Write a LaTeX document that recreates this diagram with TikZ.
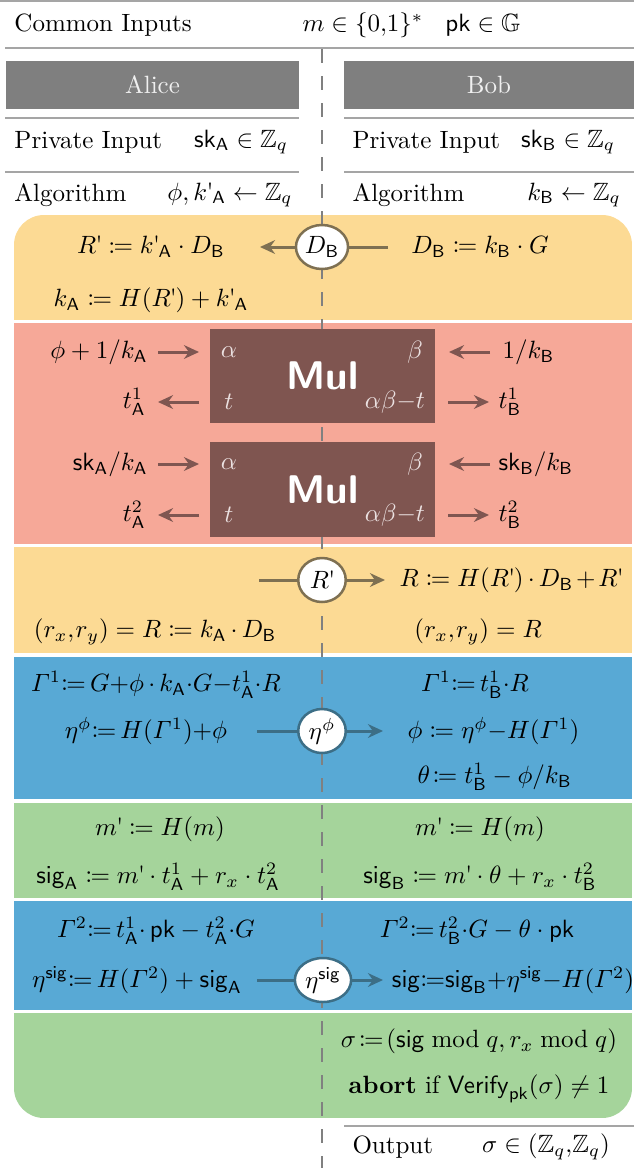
\documentclass[tikz,border=0pt]{standalone}
\usepackage{amsmath,amssymb,mathtools}
\usetikzlibrary{arrows.meta,shapes.geometric}
\definecolor{yel}{RGB}{252,218,148}
\definecolor{sal}{RGB}{246,168,152}
\definecolor{blu}{RGB}{88,169,213}
\definecolor{grn}{RGB}{165,212,155}
\definecolor{mulc}{RGB}{127,85,80}
\definecolor{ybr}{RGB}{126,112,82}
\definecolor{rbr}{RGB}{127,86,81}
\definecolor{bdk}{RGB}{60,110,134}
\definecolor{hdrc}{RGB}{127,127,127}
\definecolor{rulec}{RGB}{165,165,165}
\definecolor{dashc}{RGB}{128,128,128}
\definecolor{mullab}{RGB}{235,225,225}
\newcommand{\SA}{_{\mathsf{A}}}
\newcommand{\SB}{_{\mathsf{B}}}
\newcommand{\qt}{\text{\kern-0.3pt\textquotesingle\kern-0.5pt}}
\newcommand{\Zq}{\mathbb{Z}_q}
\begin{document}
\begin{tikzpicture}[x=0.4pt,y=-0.4pt,
  txt/.style={inner sep=0pt},
  hdrbox/.style={fill=hdrc,text=white!94!black,inner sep=0pt},
  rulel/.style={draw=rulec,line width=0.9pt},
  circnode/.style={ellipse,draw,fill=white,line width=1pt,minimum width=19pt,minimum height=17.6pt,inner sep=0.5pt},
  mulbox/.style={fill=mulc,text=white,inner sep=0pt,font=\fontsize{16}{16}\selectfont\sffamily\bfseries},
  mlab/.style={inner sep=0pt,text=mullab},
  arr/.style={line width=1.2pt,-{Stealth[length=6pt,width=5.5pt]}},
  ln/.style={line width=1.2pt}
]
\useasboundingbox (0,0) rectangle (634,1168);
% colored sections
\begin{scope}
\clip[rounded corners=12pt] (14,215) rectangle (632,1118);
\fill[yel] (14,215) rectangle (632,320);
\fill[sal] (14,323) rectangle (632,544);
\fill[yel] (14,547) rectangle (632,653);
\fill[blu] (14,657) rectangle (632,799);
\fill[grn] (14,803) rectangle (632,898);
\fill[blu] (14,901) rectangle (632,1010);
\fill[grn] (14,1013) rectangle (632,1118);
\end{scope}
% rules
\draw[rulel] (0,1) -- (634,1);
\draw[rulel] (5,48) -- (634,48);
\draw[rulel] (5,118) -- (299,118);
\draw[rulel] (344,118) -- (634,118);
\draw[rulel] (5,172) -- (299,172);
\draw[rulel] (344,172) -- (634,172);
\draw[rulel] (344,1126) -- (634,1126);
% dashed divider
\coordinate (dtop) at (322,49);
\coordinate (dbot) at (322,1168);
\draw[dashc,line width=0.9pt,dash pattern=on 5.4pt off 5.4pt] (dtop) -- (dbot);
% header
\node[txt,anchor=west] (ci) at (14,25) {Common Inputs};
\node[txt] (cim) at (363,25) {$m \in \{0{,}1\}^*$};
\node[txt] (cipk) at (483,25) {$\mathsf{pk} \in \mathbb{G}$};
\node[hdrbox,minimum width=117.2pt,minimum height=19.2pt] (alice) at (152.5,85) {Alice};
\node[hdrbox,minimum width=116pt,minimum height=19.2pt] (bob) at (489,85) {Bob};
\node[txt,anchor=west] (piA) at (14,142) {Private Input};
\node[txt] (skA) at (241,142) {$\mathsf{sk}\SA \in \Zq$};
\node[txt,anchor=west] (piB) at (352,142) {Private Input};
\node[txt] (skB) at (568,142) {$\mathsf{sk}\SB \in \Zq$};
\node[txt,anchor=west] (alA) at (14,195) {Algorithm};
\node[txt] (alAv) at (230,195) {$\phi, k\qt\SA \leftarrow \Zq$};
\node[txt,anchor=west] (alB) at (352,195) {Algorithm};
\node[txt] (alBv) at (574,195) {$k\SB \leftarrow \Zq$};
% yellow 1
\node[txt] (rp) at (151,247) {$R\qt \coloneqq k\qt\SA \cdot D\SB$};
\node[txt] (db) at (480,247) {$D\SB \coloneqq k\SB \cdot G$};
\node[txt] (ka) at (151,300) {$k\SA \coloneqq H(R\qt) + k\qt\SA$};
\node[circnode,draw=ybr] (cDB) at (322,247) {$D\SB$};
\coordinate (dbR) at (388,247);
\coordinate (dbL) at (260,247);
\draw[ln,ybr] (dbR) -- (cDB);
\draw[arr,ybr] (cDB) -- (dbL);
% red / Mul
\node[mulbox,minimum width=90pt,minimum height=37.6pt] (mul1) at (322.5,376) {\raisebox{-1.6pt}{Mul}};
\node[mulbox,minimum width=90pt,minimum height=38pt] (mul2) at (322.5,489.5) {\raisebox{-1.6pt}{Mul}};
\node[mlab] (a1) at (229,352) {$\alpha$};
\node[mlab] (b1) at (415,352) {$\beta$};
\node[mlab] (t1) at (229,402) {$t$};
\node[mlab] (ab1) at (395,402) {$\alpha\beta{-}t$};
\node[mlab] (a2) at (229,464) {$\alpha$};
\node[mlab] (b2) at (415,464) {$\beta$};
\node[mlab] (t2) at (229,515) {$t$};
\node[mlab] (ab2) at (395,515) {$\alpha\beta{-}t$};
\node[txt,anchor=east] (in1A) at (148,352) {$\phi + 1/k\SA$};
\node[txt,anchor=east] (o1A) at (146,402) {$t^1\SA$};
\node[txt,anchor=west] (in1B) at (502,352) {$1/k\SB$};
\node[txt,anchor=west] (o1B) at (498,402) {$t^1\SB$};
\node[txt,anchor=east] (in2A) at (148,464) {$\mathsf{sk}\SA/k\SA$};
\node[txt,anchor=east] (o2A) at (146,515) {$t^2\SA$};
\node[txt,anchor=west] (in2B) at (498,464) {$\mathsf{sk}\SB/k\SB$};
\node[txt,anchor=west] (o2B) at (498,515) {$t^2\SB$};
\foreach \y/\n in {352/p, 464/q}{
  \coordinate (la\n) at (158,\y); \coordinate (lb\n) at (199,\y);
  \coordinate (ra\n) at (490,\y); \coordinate (rb\n) at (449,\y);
  \draw[arr,rbr] (la\n) -- (lb\n);
  \draw[arr,rbr] (ra\n) -- (rb\n);
}
\foreach \y/\n in {402/p, 515/q}{
  \coordinate (lc\n) at (199,\y); \coordinate (ld\n) at (158,\y);
  \coordinate (rc\n) at (448,\y); \coordinate (rd\n) at (489,\y);
  \draw[arr,rbr] (lc\n) -- (ld\n);
  \draw[arr,rbr] (rc\n) -- (rd\n);
}
% yellow 2
\node[circnode,draw=ybr] (cR) at (322,580) {$R\qt$};
\coordinate (rL) at (259,580);
\coordinate (rR) at (385,580);
\draw[ln,ybr] (rL) -- (cR);
\draw[arr,ybr] (cR) -- (rR);
\node[txt] (Rdef) at (511,580) {$R \coloneqq H(R\qt)\mkern-1mu\cdot\mkern-1mu D\SB \mkern-2mu+\mkern-2mu R\qt$};
\node[txt] (rxA) at (155,632) {$(r_x,\mkern-2mu r_y) = R \coloneqq k\SA \mkern-1mu\cdot\mkern-1mu D\SB$};
\node[txt] (rxB) at (478,632) {$(r_x,\mkern-2mu r_y) = R$};
% blue 1
\node[txt] (g1A) at (156,685) {$\varGamma^1{\coloneqq}\,G{+}\phi\,{\cdot}\,k\SA{\cdot} G{-}t^1\SA{\cdot}R$};
\node[txt] (g1B) at (475,685) {$\varGamma^1{\coloneqq}\,t^1\SB{\cdot}R$};
\node[txt] (etaA) at (146,731) {$\eta^\phi{\coloneqq}\,H(\varGamma^1){+}\phi$};
\node[circnode,draw=bdk] (cEta) at (322,731) {$\eta^\phi$};
\coordinate (eL) at (257,731);
\coordinate (eR) at (383,731);
\draw[ln,bdk] (eL) -- (cEta);
\draw[arr,bdk] (cEta) -- (eR);
\node[txt,anchor=west] (phiB) at (407,731) {$\phi \coloneqq \eta^\phi{-}H(\varGamma^1)$};
\node[txt,anchor=west] (thB) at (417,777) {$\theta\!\coloneqq t^1\SB - \phi/k\SB$};
% green 1
\node[txt] (mA) at (160,829) {$m\qt \coloneqq H(m)$};
\node[txt] (mB) at (480,829) {$m\qt \coloneqq H(m)$};
\node[txt] (sA) at (158,877) {$\mathsf{sig}\SA \coloneqq m\qt \cdot t^1\SA + r_x \cdot t^2\SA$};
\node[txt] (sB) at (480,877) {$\mathsf{sig}\SB \coloneqq m\qt \cdot \theta + r_x \cdot t^2\SB$};
% blue 2
\node[txt] (g2A) at (156,931) {$\varGamma^2{\coloneqq}\,t^1\SA{\cdot}\,\mathsf{pk} - t^2\SA{\cdot}G$};
\node[txt] (g2B) at (477,931) {$\varGamma^2{\coloneqq}\,t^2\SB{\cdot}G - \theta\cdot\mathsf{pk}$};
\node[txt] (esA) at (137,980) {$\eta^{\mathsf{sig}}{\coloneqq}\,H(\varGamma^2) + \mathsf{sig}\SA$};
\node[circnode,draw=bdk,minimum width=22.5pt] (cEs) at (323,980) {$\eta^{\mathsf{sig}}$};
\coordinate (sL) at (257,980);
\coordinate (sR) at (383,980);
\draw[ln,bdk] (sL) -- (cEs);
\draw[arr,bdk] (cEs) -- (sR);
\node[txt] (sigB) at (513,980) {$\mathsf{sig}{\coloneqq}\mathsf{sig}\SB{+}\eta^{\mathsf{sig}}{-}H(\varGamma^2)$};
% green 2
\node[txt] (sigma) at (479,1041) {$\sigma\!\coloneqq\!(\mathsf{sig} \bmod q, r_x \bmod q)$};
\node[txt] (abort) at (479,1089) {\textbf{abort} if $\mathsf{Verify}_{\mathsf{pk}}(\sigma) \neq 1$};
% output
\node[txt,anchor=west] (outl) at (352,1147) {Output};
\node[txt] (outv) at (546,1147) {$\sigma \in (\Zq{,}\Zq)$};
\end{tikzpicture}
\end{document}
